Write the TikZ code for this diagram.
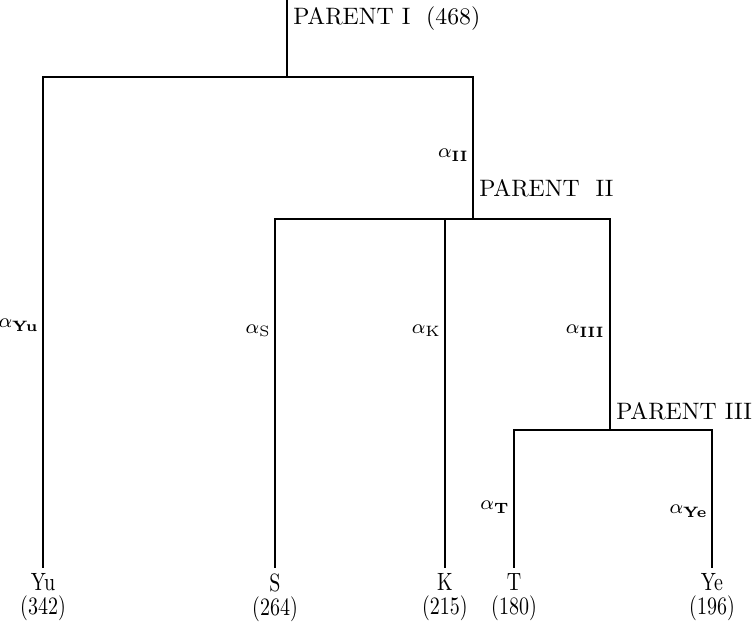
\documentclass[tikz,border=0pt]{standalone}
\usepackage{amsmath,amssymb}
\usepackage{tikz}

\newcommand{\cnd}[1]{\scalebox{0.8}[1]{#1}}

\begin{document}
\begin{tikzpicture}[x=0.4pt,y=-0.4pt,line width=0.6pt,
  leaf/.style={anchor=north,align=center,inner sep=2pt},
  lbl/.style={anchor=east,inner sep=1pt,font=\fontsize{8.5}{10}\selectfont},
  ptext/.style={anchor=base west,inner sep=1pt,font=\fontsize{9.5}{11}\selectfont}]
\useasboundingbox (0,0) rectangle (755,626);
% leaves
\foreach \nm/\x/\lab/\cnt in {yu/43/Yu/342, s/275/S/264, k/445/K/215, t/514/T/180, ye/712/Ye/196}
{
    \node[leaf] (\nm) at (\x,568) {\cnd{\lab}\\[-2.4pt]\cnd{(\cnt)}};
}
% parents
\coordinate (root) at (287,0);
\coordinate (p1) at (287,77);
\coordinate (p2) at (473,219);
\coordinate (p3) at (610,430);
\draw (root) -- (p1);
\draw (yu.north) |- (p1) -| (p2);
\draw (s.north) |- (p2) -| (p3);
\draw (k.north) -- (k.north |- p2);
\draw (t.north) |- (p3) -| (ye.north);
\node[ptext] (pI) at (290,25) {PARENT I\ \ (468)};
\node[ptext] (pII) at (476,197) {PARENT\ \ II};
\node[ptext] (pIII) at (613,420) {PARENT III};
% branch labels
\node[lbl] (ayu) at (42,325) {$\alpha_{\mathbf{Yu}}$};
\node[lbl] (aii) at (472,155) {$\alpha_{\mathbf{II}}$};
\node[lbl] (as) at (274,331) {$\alpha_{\mathrm{S}}$};
\node[lbl] (ak) at (444,331) {$\alpha_{\mathrm{K}}$};
\node[lbl] (aiii) at (608,331) {$\alpha_{\mathbf{III}}$};
\node[lbl] (at) at (513,507) {$\alpha_{\mathbf{T}}$};
\node[lbl] (aye) at (711,511) {$\alpha_{\mathbf{Ye}}$};
\end{tikzpicture}
\end{document}
